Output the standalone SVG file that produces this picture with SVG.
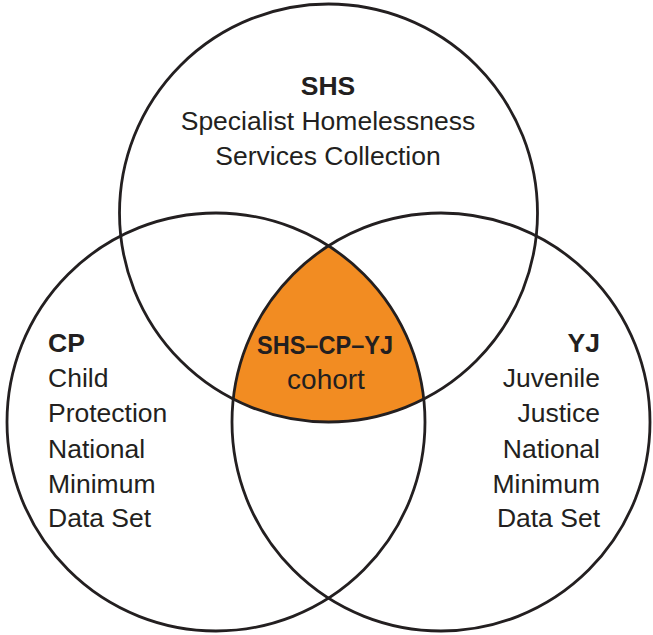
<svg xmlns="http://www.w3.org/2000/svg" width="653" height="635" viewBox="0 0 653 635">
<style>
.ring{fill:none;stroke:#231f20;stroke-width:2.8}
.t{font-family:"Liberation Sans",Arial,sans-serif;font-size:26.5px;fill:#231f20}
.b{font-weight:bold}
.m{text-anchor:middle}
.e{text-anchor:end}
</style>
<rect width="653" height="635" fill="#ffffff"/>
<g id="cohort">
<path d="M328.5 245.86 A209 209 0 0 0 233.25 399.05 A209 209 0 0 0 423.75 399.05 A209 209 0 0 0 328.5 245.86 Z" fill="#f28c22"/>
<text class="t b m" x="325" y="354" textLength="136" lengthAdjust="spacingAndGlyphs">SHS–CP–YJ</text>
<text class="t m" x="326" y="389" style="font-size:28px">cohort</text>
</g>
<g id="connectors"></g>
<g id="shs">
<circle class="ring" cx="328.5" cy="213" r="209"/>
<text class="t b m" x="328" y="95">SHS</text>
<text class="t m" x="328" y="130">Specialist Homelessness</text>
<text class="t m" x="328" y="165">Services Collection</text>
</g>
<g id="cp">
<circle class="ring" cx="216" cy="422" r="209"/>
<text class="t b" x="48" y="352">CP</text>
<text class="t" x="48" y="387">Child</text>
<text class="t" x="48" y="422">Protection</text>
<text class="t" x="48" y="458">National</text>
<text class="t" x="48" y="493">Minimum</text>
<text class="t" x="48" y="527">Data Set</text>
</g>
<g id="yj">
<circle class="ring" cx="441" cy="422" r="209"/>
<text class="t b e" x="600" y="352">YJ</text>
<text class="t e" x="600" y="387">Juvenile</text>
<text class="t e" x="600" y="422">Justice</text>
<text class="t e" x="600" y="458">National</text>
<text class="t e" x="600" y="493">Minimum</text>
<text class="t e" x="600" y="527">Data Set</text>
</g>
</svg>
